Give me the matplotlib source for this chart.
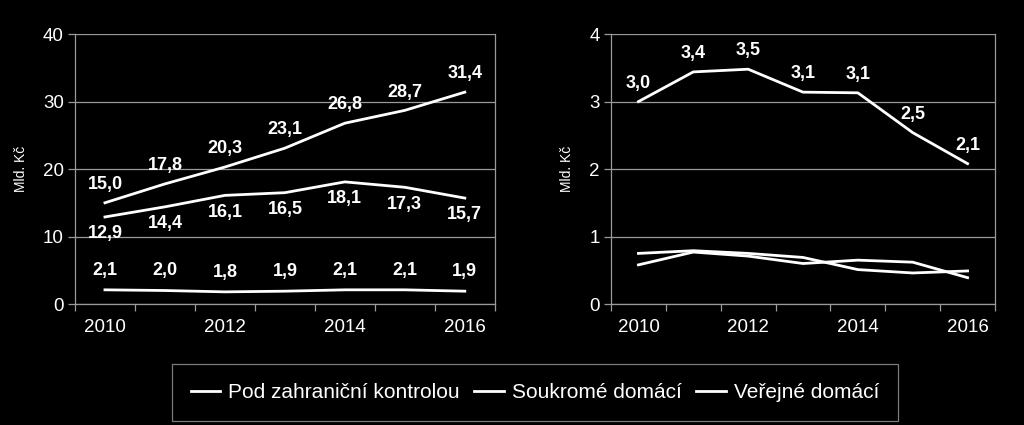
import numpy as np
import matplotlib.pyplot as plt
from matplotlib.ticker import MultipleLocator, FixedLocator

plt.rcParams['font.family'] = ['Liberation Sans', 'DejaVu Sans']

years = [2010, 2011, 2012, 2013, 2014, 2015, 2016]
year_labels = ['2010', '', '2012', '', '2014', '', '2016']
series_names = ['Pod zahraniční kontrolou', 'Soukromé domácí', 'Veřejné domácí']

# left panel
left_foreign = [15.0, 17.8, 20.3, 23.1, 26.8, 28.7, 31.4]
left_private = [12.9, 14.4, 16.1, 16.5, 18.1, 17.3, 15.7]
left_public = [2.1, 2.0, 1.8, 1.9, 2.1, 2.1, 1.9]

# right panel
right_foreign = [3.0, 3.44, 3.48, 3.14, 3.13, 2.54, 2.08]
right_private = [0.75, 0.79, 0.75, 0.69, 0.51, 0.46, 0.49]
right_public = [0.58, 0.77, 0.71, 0.60, 0.65, 0.62, 0.39]

edge = '#9a9a9a'
fig = plt.figure(figsize=(10.24, 4.25), dpi=100, facecolor='black')
ax1 = fig.add_axes([0.0732, 0.2847, 0.410, 0.635])
ax2 = fig.add_axes([0.5967, 0.2847, 0.375, 0.635])

x = np.arange(len(years))


def style(ax, ymax, step):
    ax.set_facecolor('black')
    ax.set_xlim(-0.5, len(years) - 0.5)
    ax.set_ylim(0, ymax)
    ax.yaxis.set_major_locator(MultipleLocator(step))
    ax.grid(axis='y', color=edge, linewidth=0.9)
    ax.set_axisbelow(True)
    for s in ax.spines.values():
        s.set_color(edge)
        s.set_linewidth(0.9)
    ax.spines['top'].set_visible(False)
    ax.set_xticks(x)
    ax.set_xticklabels(year_labels)
    ax.tick_params(axis='x', which='major', length=0, pad=11, colors='white', labelsize=13.5)
    ax.xaxis.set_minor_locator(FixedLocator(np.arange(-0.5, len(years), 1.0)))
    ax.tick_params(axis='x', which='minor', length=5, color=edge, width=0.9)
    ax.tick_params(axis='y', length=5, color=edge, width=0.9, colors='white', labelsize=13.5, pad=3)
    ax.set_ylabel('Mld. Kč', color='white', fontsize=10, labelpad=11)


style(ax1, 40, 10)
style(ax2, 4, 1)

lw = 2.0
h1, = ax1.plot(x, left_foreign, color='white', lw=lw)
h2, = ax1.plot(x, left_private, color='white', lw=lw)
h3, = ax1.plot(x, left_public, color='white', lw=lw)
ax2.plot(x, right_foreign, color='white', lw=lw)
ax2.plot(x, right_private, color='white', lw=lw)
ax2.plot(x, right_public, color='white', lw=lw)


def fmt(v):
    return f'{v:.1f}'.replace('.', ',')


lab = dict(color='white', fontsize=13, fontweight='bold', ha='center')
for i in x:
    ax1.annotate(fmt(left_foreign[i]), (i, left_foreign[i]), xytext=(0, 7),
                 textcoords='offset points', va='bottom', **lab)
    ax1.annotate(fmt(left_private[i]), (i, left_private[i]), xytext=(0, -6),
                 textcoords='offset points', va='top', **lab)
    ax1.annotate(fmt(left_public[i]), (i, left_public[i]), xytext=(0, 8),
                 textcoords='offset points', va='bottom', **lab)
    ax2.annotate(fmt(right_foreign[i]), (i, right_foreign[i]), xytext=(0, 7),
                 textcoords='offset points', va='bottom', **lab)

leg = fig.legend([h1, h2, h3], series_names, loc='center', bbox_to_anchor=(0.5225, 0.0765),
                 ncol=3, frameon=True, fancybox=False, facecolor='black', edgecolor=edge,
                 fontsize=15, handlelength=1.4, handletextpad=0.4, columnspacing=0.7,
                 borderpad=0.9)
leg.get_frame().set_linewidth(0.9)
for t in leg.get_texts():
    t.set_color('white')

fig.savefig('out.png', dpi=100, facecolor='black')
